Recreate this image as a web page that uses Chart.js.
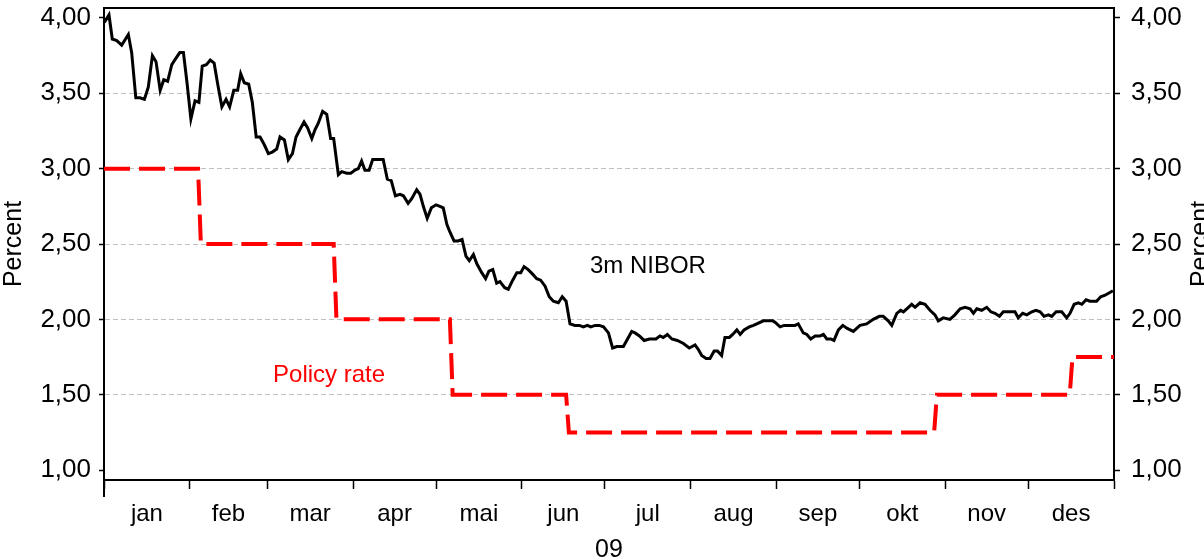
<!DOCTYPE html>
<html>
<head>
<meta charset="utf-8">
<script src="https://cdn.jsdelivr.net/npm/chart.js@4/dist/chart.umd.min.js"></script>
<style>
  html, body { margin: 0; padding: 0; background: #fff; }
  #wrap { width: 1204px; height: 560px; }
</style>
</head>
<body>
<div id="wrap"><canvas id="chart" width="1204" height="560"></canvas></div>
<script>
// ---------------------------
// Data (day of year 2009, percent)
// ---------------------------
const monthNames = ['jan', 'feb', 'mar', 'apr', 'mai', 'jun', 'jul', 'aug', 'sep', 'okt', 'nov', 'des'];
const monthStart = [0, 31, 59, 90, 120, 151, 181, 212, 243, 273, 304, 334, 365];
const yearLabel = '09';
const yTicks = [1.0, 1.5, 2.0, 2.5, 3.0, 3.5, 4.0];

const nibDay = [0.1,1.8,3.0,4.6,6.4,8.8,10.0,11.5,13.0,14.6,
  16.0,17.5,18.8,20.3,21.6,23.0,24.5,25.9,27.4,28.7,
  30.0,31.4,32.9,34.3,35.5,37.0,38.4,39.8,41.1,42.6,
  44.1,45.4,46.9,48.3,49.4,50.7,52.3,53.6,55.0,56.4,
  57.9,59.4,60.8,62.4,63.6,65.2,66.6,68.1,69.4,70.8,
  72.3,73.6,75.1,76.3,77.4,79.0,80.5,81.9,83.0,84.7,
  85.9,87.7,89.2,90.7,91.9,93.1,94.3,95.8,97.1,100.9,
  102.4,103.8,105.3,107.0,108.2,109.9,111.2,113.0,114.2,115.4,
  116.8,118.3,120.0,121.4,122.6,123.9,125.0,126.5,127.9,129.4,
  130.8,132.0,133.5,134.7,136.5,137.9,139.1,140.5,141.9,143.1,
  144.8,146.1,147.7,149.2,150.6,151.8,153.3,154.9,156.4,157.8,
  159.4,160.9,162.4,164.2,165.6,167.0,168.4,170.2,171.8,173.2,
  174.7,175.9,177.5,179.0,180.5,182.3,183.8,185.3,187.7,188.9,
  190.7,191.9,193.5,195.2,197.1,198.5,199.5,200.9,202.1,203.6,
  205.2,207.2,209.4,211.5,213.6,214.8,216.0,217.6,219.0,220.5,
  221.7,223.2,224.4,226.0,227.2,228.7,229.9,231.3,233.2,234.7,
  235.9,238.3,240.1,241.7,242.6,244.3,245.8,247.9,249.7,250.9,
  252.7,254.0,255.4,257.0,258.8,260.0,261.2,262.6,263.8,265.4,
  267.0,268.6,270.8,273.2,275.6,278.0,280.2,281.6,283.4,284.7,
  286.5,287.9,288.9,290.7,291.9,293.1,294.9,296.7,298.5,300.3,
  301.5,303.3,305.7,307.5,309.4,311.2,313.0,314.2,315.4,317.2,
  319.0,320.5,322.0,323.6,325.0,327.4,329.2,330.4,332.0,333.5,
  335.3,336.8,338.3,339.7,341.3,342.5,344.1,346.1,347.9,349.1,
  350.6,352.1,353.4,354.9,356.3,358.7,360.2,361.8,364.6];

const nibRate = [3.97,4.02,3.86,3.85,3.82,3.89,3.77,3.47,3.47,3.46,
  3.54,3.75,3.71,3.52,3.59,3.58,3.69,3.73,3.77,3.77,
  3.57,3.33,3.45,3.44,3.68,3.69,3.72,3.70,3.56,3.41,
  3.46,3.41,3.52,3.52,3.63,3.57,3.56,3.44,3.21,3.21,
  3.16,3.10,3.11,3.13,3.21,3.19,3.06,3.10,3.21,3.26,
  3.31,3.27,3.20,3.26,3.30,3.38,3.36,3.20,3.20,2.96,
  2.98,2.97,2.97,2.99,3.00,3.05,2.99,2.99,3.06,3.06,
  2.93,2.92,2.82,2.83,2.82,2.77,2.80,2.86,2.83,2.75,
  2.67,2.74,2.76,2.75,2.74,2.63,2.58,2.52,2.52,2.53,
  2.42,2.39,2.43,2.37,2.31,2.27,2.32,2.33,2.24,2.25,
  2.21,2.20,2.26,2.31,2.31,2.35,2.33,2.30,2.27,2.26,
  2.22,2.15,2.12,2.11,2.15,2.12,1.97,1.96,1.96,1.95,
  1.96,1.95,1.96,1.96,1.95,1.91,1.81,1.82,1.82,1.86,
  1.92,1.91,1.89,1.86,1.87,1.87,1.87,1.89,1.88,1.90,
  1.87,1.86,1.84,1.81,1.83,1.80,1.76,1.74,1.74,1.79,
  1.79,1.76,1.88,1.88,1.90,1.93,1.90,1.93,1.95,1.96,
  1.97,1.99,1.99,1.99,1.98,1.95,1.96,1.96,1.96,1.97,
  1.91,1.90,1.87,1.89,1.89,1.90,1.87,1.87,1.86,1.93,
  1.96,1.94,1.92,1.96,1.97,2.00,2.02,2.02,1.99,1.96,
  2.04,2.06,2.05,2.08,2.10,2.08,2.11,2.10,2.06,2.03,
  1.99,2.01,2.00,2.03,2.07,2.08,2.07,2.04,2.07,2.06,
  2.08,2.05,2.04,2.02,2.05,2.05,2.05,2.01,2.04,2.03,
  2.05,2.06,2.05,2.02,2.03,2.02,2.05,2.05,2.01,2.04,
  2.10,2.11,2.10,2.13,2.12,2.12,2.15,2.16,2.19];

// policy rate: value holds until the next change
const policyDay  = [0, 34, 35, 83, 84, 125, 126, 167, 168, 300, 301, 349, 350, 365];
const policyRate = [3.0, 3.0, 2.5, 2.5, 2.0, 2.0, 1.5, 1.5, 1.25, 1.25, 1.5, 1.5, 1.75, 1.75];

// series labels, anchored in data units (day, percent)
const seriesLabels = [
  { text: '3m NIBOR', day: 175.6, value: 2.31, color: '#000000' },
  { text: 'Policy rate', day: 61.1, value: 1.585, color: '#ff0000' }
];

// ---------------------------
// Helpers
// ---------------------------
const FONT = "'Liberation Sans', Arial, sans-serif";
const monthMid = monthNames.map((m, i) => (monthStart[i] + monthStart[i + 1]) / 2);
const fmt = v => v.toFixed(2).replace('.', ',');
const toPoints = (xs, ys) => xs.map((x, i) => ({ x: x, y: ys[i] }));

// fixed axis box, no extra padding pushed onto the chart area
function fixBox(w, h) {
  return s => {
    if (w !== null) s.width = w;
    if (h !== null) s.height = h;
    s.paddingTop = 0; s.paddingBottom = 0; s.paddingLeft = 0; s.paddingRight = 0;
  };
}

const textPlugin = {
  id: 'textPlugin',
  afterDraw(chart) {
    const { ctx, chartArea, scales } = chart;
    ctx.save();
    // series labels
    ctx.font = '24px ' + FONT;
    ctx.textAlign = 'left';
    ctx.textBaseline = 'alphabetic';
    seriesLabels.forEach(l => {
      ctx.fillStyle = l.color;
      ctx.fillText(l.text, scales.x.getPixelForValue(l.day), scales.y.getPixelForValue(l.value));
    });
    // left axis runs a little below the x axis
    ctx.strokeStyle = '#000';
    ctx.lineWidth = 2;
    ctx.beginPath();
    ctx.moveTo(chartArea.left, chartArea.bottom);
    ctx.lineTo(chartArea.left, chartArea.bottom + 17);
    ctx.stroke();
    // right axis title (mostly outside the picture)
    ctx.font = '25px ' + FONT;
    ctx.fillStyle = '#000';
    ctx.textAlign = 'center';
    ctx.translate(chartArea.right + 94, (chartArea.top + chartArea.bottom) / 2);
    ctx.rotate(-Math.PI / 2);
    ctx.fillText('Percent', 0, 0);
    ctx.restore();
  }
};

// ---------------------------
// Chart
// ---------------------------
const yBase = {
  type: 'linear',
  min: 0.934,
  max: 4.066,
  afterBuildTicks: s => { s.ticks = yTicks.map(v => ({ value: v })); },
  ticks: {
    color: '#000',
    font: { family: FONT, size: 26 },
    callback: v => fmt(v)
  }
};

new Chart(document.getElementById('chart'), {
  type: 'line',
  data: {
    datasets: [
      {
        label: '3m NIBOR',
        data: toPoints(nibDay, nibRate),
        borderColor: '#000000',
        borderWidth: 3,
        pointRadius: 0,
        tension: 0,
        xAxisID: 'x',
        yAxisID: 'y'
      },
      {
        label: 'Policy rate',
        data: toPoints(policyDay, policyRate),
        borderColor: '#ff0000',
        borderWidth: 4,
        borderDash: [26, 9],
        borderCapStyle: 'butt',
        pointRadius: 0,
        tension: 0,
        xAxisID: 'x',
        yAxisID: 'y'
      }
    ]
  },
  options: {
    responsive: false,
    animation: false,
    layout: { padding: 0, autoPadding: false },
    plugins: {
      legend: { display: false },
      tooltip: { enabled: false }
    },
    scales: {
      x: {
        type: 'linear',
        position: 'bottom',
        min: 0,
        max: 365,
        afterBuildTicks: s => {
          s.ticks = monthStart.concat(monthMid).sort((a, b) => a - b).map(v => ({ value: v }));
        },
        afterFit: fixBox(null, 80),
        ticks: {
          autoSkip: false,
          maxRotation: 0,
          minRotation: 0,
          padding: 11,
          color: '#000',
          font: { family: FONT, size: 24 },
          callback: v => {
            const i = monthMid.indexOf(v);
            return i >= 0 ? monthNames[i] : '';
          }
        },
        grid: {
          drawOnChartArea: false,
          tickLength: 9,
          tickWidth: 1.5,
          tickColor: c => (c.tick && monthStart.includes(c.tick.value)) ? '#000' : 'rgba(0,0,0,0)'
        },
        border: { color: '#000', width: 2 },
        title: {
          display: true,
          text: yearLabel,
          color: '#000',
          font: { family: FONT, size: 25 },
          padding: { top: 0, bottom: -5 }
        }
      },
      xTop: {
        type: 'linear',
        position: 'top',
        min: 0,
        max: 365,
        afterFit: fixBox(null, 8),
        ticks: { display: false },
        grid: { display: false },
        border: { display: true, color: '#000', width: 2 }
      },
      y: Object.assign({}, yBase, {
        position: 'left',
        afterFit: fixBox(104, null),
        ticks: Object.assign({}, yBase.ticks, { padding: 8 }),
        grid: {
          color: c => (c.tick && (c.tick.value === 1 || c.tick.value === 4)) ? 'rgba(0,0,0,0)' : '#c0c0c0',
          lineWidth: 1,
          tickLength: 5,
          tickWidth: 1.5,
          tickColor: '#000'
        },
        border: { color: '#000', width: 2, dash: [5, 3] },
        title: {
          display: true,
          text: 'Percent',
          color: '#000',
          font: { family: FONT, size: 25 },
          padding: { top: -1, bottom: 0 }
        }
      }),
      y2: Object.assign({}, yBase, {
        position: 'right',
        afterFit: fixBox(90, null),
        ticks: Object.assign({}, yBase.ticks, { padding: 11 }),
        grid: {
          drawOnChartArea: false,
          tickLength: 6,
          tickWidth: 1.5,
          tickColor: '#000'
        },
        border: { color: '#000', width: 2 }
      })
    }
  },
  plugins: [textPlugin]
});
</script>
</body>
</html>
